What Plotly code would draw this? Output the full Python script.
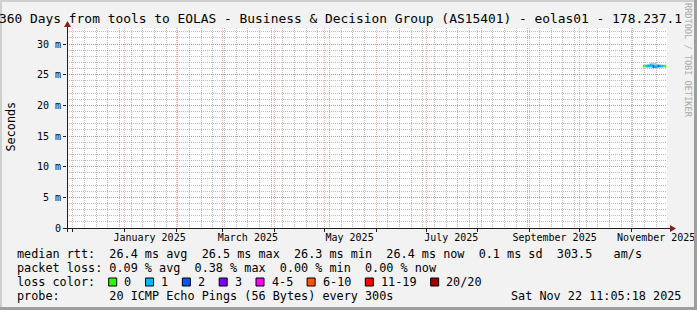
import plotly.graph_objects as go
from datetime import datetime, timedelta

# ---------------- data ----------------
dates = ["2025-11-08", "2025-11-09", "2025-11-10", "2025-11-11", "2025-11-12",
         "2025-11-13", "2025-11-14", "2025-11-15", "2025-11-16", "2025-11-17",
         "2025-11-18", "2025-11-19", "2025-11-20", "2025-11-21", "2025-11-22"]
median_ms = [26.4, 26.4, 26.4, 26.4, 26.5, 26.4, 26.3, 26.3, 26.4, 26.4,
             26.4, 26.4, 26.4, 26.4, 26.4]
lost_pings = [0, 0, 1, 1, 1, 1, 2, 1, 1, 2, 1, 1, 0, 0, 0]
smoke_lo_ms = [26.3, 26.3, 26.25, 26.25, 26.25, 26.2, 26.15, 26.15, 26.2, 26.2,
               26.25, 26.25, 26.3, 26.3, 26.3]
smoke_hi_ms = [26.5, 26.5, 26.6, 26.7, 26.9, 27.0, 27.0, 26.95, 26.9, 26.7,
               26.6, 26.5, 26.5, 26.5, 26.5]

loss_labels = ["0", "1", "2", "3", "4-5", "6-10", "11-19", "20/20"]
loss_upper = [0, 1, 2, 3, 5, 10, 19, 20]
loss_colors = ["#26ff00", "#00b8ff", "#0059ff", "#7e00ff", "#ff00ff",
               "#ff5500", "#ff0000", "#a10000"]

y_tick_vals = [0, 5, 10, 15, 20, 25, 30]
y_tick_text = ["0", "5 m", "10 m", "15 m", "20 m", "25 m", "30 m"]
month_label_starts = ["2025-01-01", "2025-03-01", "2025-05-01",
                      "2025-07-01", "2025-09-01", "2025-11-01"]
month_labels = ["January 2025", "March 2025", "May 2025",
                "July 2025", "September 2025", "November 2025"]

title_text = "360 Days from tools to EOLAS - Business & Decision Group (AS15401) - eolas01 - 178.237.1"
row_rtt = "median rtt:  26.4 ms avg  26.5 ms max  26.3 ms min  26.4 ms now  0.1 ms sd  303.5   am/s"
row_loss = "packet loss: 0.09 % avg  0.38 % max  0.00 % min  0.00 % now"
row_color = "loss color:"
row_probe = "probe:       20 ICMP Echo Pings (56 Bytes) every 300s"
stamp = "Sat Nov 22 11:05:18 2025"
graph_end = "2025-11-22 11:05:18"
span_days = 360

# ---------------- layout helpers ----------------
W, H = 697, 310
L, R, T, B = 67, 30, 28, 82
PW, PH = W - L - R, H - T - B
MONO = "DejaVu Sans Mono"
NB = "\u00a0"


def px(x):
    return (x - L) / PW


def py(y):
    return (H - B - y) / PH


def nb(s):
    return s.replace(" ", NB)


end_dt = datetime.strptime(graph_end, "%Y-%m-%d %H:%M:%S")
start_dt = end_dt - timedelta(days=span_days)


def color_for(n):
    for up, c in zip(loss_upper, loss_colors):
        if n <= up:
            return c
    return loss_colors[-1]


fig = go.Figure()

# smoke band
fig.add_trace(go.Scatter(x=dates, y=smoke_lo_ms, mode="lines", line=dict(width=0),
                         hoverinfo="skip", showlegend=False))
fig.add_trace(go.Scatter(x=dates, y=smoke_hi_ms, mode="lines", line=dict(width=0),
                         fill="tonexty", fillcolor="#c6c6c6",
                         hoverinfo="skip", showlegend=False))

# median line, coloured by loss
segs = {}
for i in range(len(dates) - 1):
    c = color_for(lost_pings[i])
    xs, ys = segs.setdefault(c, ([], []))
    xs += [dates[i], dates[i + 1], None]
    ys += [median_ms[i], median_ms[i + 1], None]
for c, (xs, ys) in segs.items():
    fig.add_trace(go.Scatter(x=xs, y=ys, mode="lines", line=dict(color=c, width=2.6, shape="hv"),
                             hoverinfo="skip", showlegend=False))

# month labels on overlay axis
label_pos = [(datetime.strptime(d, "%Y-%m-%d") + timedelta(days=15)) for d in month_label_starts]
fig.add_trace(go.Scatter(x=label_pos, y=[None] * len(label_pos), xaxis="x2",
                         mode="markers", hoverinfo="skip", showlegend=False))

GRID = "rgba(143,143,143,0.6)"
MGRID = "rgba(222,79,79,0.42)"
AXIS = "#1f1f1f"
ARROW = "#801f1f"

fig.update_layout(
    template="none",
    width=W, height=H, autosize=False,
    margin=dict(l=L, r=R, t=T, b=B, pad=0, autoexpand=False),
    paper_bgcolor="#f2f2f2", plot_bgcolor="#ffffff",
    font=dict(family=MONO, color="#000000", size=10),
    showlegend=False,
    xaxis=dict(
        type="date", range=[start_dt, end_dt], automargin=False,
        tickmode="linear", tick0="2024-12-01", dtick="M1",
        showticklabels=False, ticks="outside", ticklen=3, tickcolor=AXIS, tickwidth=1,
        showgrid=True, gridcolor=MGRID, griddash="1px,1px", gridwidth=1,
        minor=dict(tickmode="linear", tick0="2024-12-01", dtick=7 * 86400000,
                   showgrid=True, gridcolor=GRID, griddash="1px,1px", gridwidth=1, ticks=""),
        showline=False, zeroline=False, fixedrange=True,
    ),
    xaxis2=dict(
        type="date", range=[start_dt, end_dt], overlaying="x", anchor="y", side="bottom",
        automargin=False,
        tickmode="array", tickvals=label_pos, ticktext=month_labels,
        showgrid=False, ticks="", showline=False, zeroline=False,
        ticklabelstandoff=2,
        tickfont=dict(family=MONO, size=10, color="#000000"),
    ),
    yaxis=dict(
        range=[0, PH * 30 / 184], automargin=False,
        tickmode="array", tickvals=y_tick_vals, ticktext=y_tick_text,
        ticks="outside", ticklen=3, tickcolor=AXIS, tickwidth=1,
        showgrid=True, gridcolor=MGRID, griddash="1px,1px", gridwidth=1,
        minor=dict(tickmode="linear", tick0=0, dtick=1, showgrid=True, gridcolor=GRID,
                   griddash="1px,1px", gridwidth=1, ticks=""),
        showline=False, zeroline=False, fixedrange=True,
        tickfont=dict(family=MONO, size=10, color="#000000"),
    ),
)

shapes = []
# border shading
shapes.append(dict(type="rect", xref="paper", yref="paper", x0=px(0), x1=px(W), y0=py(0), y1=py(2),
                   fillcolor="#cfcfcf", line=dict(width=0), layer="above"))
shapes.append(dict(type="rect", xref="paper", yref="paper", x0=px(0), x1=px(2), y0=py(0), y1=py(H),
                   fillcolor="#cfcfcf", line=dict(width=0), layer="above"))
shapes.append(dict(type="rect", xref="paper", yref="paper", x0=px(0), x1=px(W), y0=py(H - 3), y1=py(H),
                   fillcolor="#9e9e9e", line=dict(width=0), layer="above"))
shapes.append(dict(type="rect", xref="paper", yref="paper", x0=px(W - 3), x1=px(W), y0=py(0), y1=py(H),
                   fillcolor="#9e9e9e", line=dict(width=0), layer="above"))
# axis lines
shapes.append(dict(type="line", xref="paper", yref="paper", x0=px(63), x1=px(671), y0=py(228.5), y1=py(228.5),
                   line=dict(color=AXIS, width=1)))
shapes.append(dict(type="line", xref="paper", yref="paper", x0=px(67.5), x1=px(67.5), y0=py(232), y1=py(25),
                   line=dict(color=AXIS, width=1)))
# arrow heads
shapes.append(dict(type="path", xref="paper", yref="paper",
                   path=f"M {px(670)},{py(225)} L {px(676)},{py(228.5)} L {px(670)},{py(232)} Z",
                   fillcolor=ARROW, line=dict(width=0)))
shapes.append(dict(type="path", xref="paper", yref="paper",
                   path=f"M {px(64)},{py(27)} L {px(67.5)},{py(21)} L {px(71)},{py(27)} Z",
                   fillcolor=ARROW, line=dict(width=0)))

# legend colour boxes
ann = []
ADV = 7.13
LEG_FS = 11.8
bx = 16 + 13 * ADV
for lab, col in zip(loss_labels, loss_colors):
    shapes.append(dict(type="rect", xref="paper", yref="paper", x0=px(bx), x1=px(bx + 8),
                       y0=py(286), y1=py(278), fillcolor=col, line=dict(color="#000000", width=1)))
    lx = bx + 14.7
    ann.append(dict(text=nb(lab), x=px(lx - 1), y=py(282), xref="paper", yref="paper",
                    xanchor="left", yanchor="middle", showarrow=False,
                    font=dict(family=MONO, size=LEG_FS, color="#000000")))
    bx = lx + len(lab) * ADV + 15

fig.update_layout(shapes=shapes)


def text(s, x, y, size, anchor="left", angle=0, color="#000000"):
    ann.append(dict(text=nb(s), x=px(x), y=py(y), xref="paper", yref="paper",
                    xanchor=anchor, yanchor="middle", showarrow=False, textangle=angle,
                    font=dict(family=MONO, size=size, color=color)))


text(title_text, -3, 18.5, 12.9)
text(row_rtt, 15, 254, LEG_FS)
text(row_loss, 15, 268, LEG_FS)
text(row_color, 15, 282, LEG_FS)
text(row_probe, 15, 296, LEG_FS)
text(stamp, 683, 296, LEG_FS, anchor="right")
text("Seconds", 10.5, 127, LEG_FS, anchor="center", angle=-90)
text("RRDTOOL / TOBI OETIKER", 688, 60, 8.6, anchor="center", angle=90, color="#aaaaaa")

fig.update_layout(annotations=ann)

fig.write_html("out.html", config={"displayModeBar": False, "staticPlot": True})
